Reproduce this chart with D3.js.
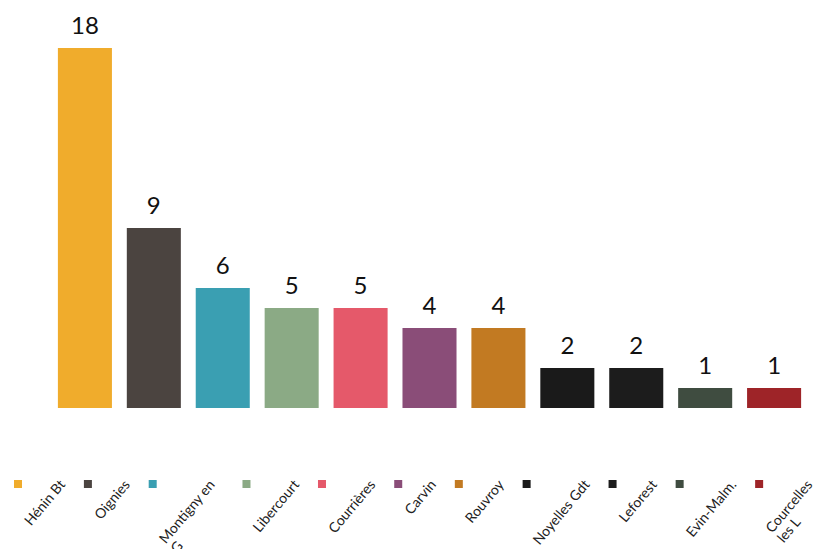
<!DOCTYPE html>
<html>
<head>
<meta charset="utf-8">
<script src="https://cdn.jsdelivr.net/npm/d3@7"></script>
<style>
  body { margin: 0; background: #fff; }
  text { font-family: Lato, "Open Sans", sans-serif; }
</style>
</head>
<body>
<script>
let communes = ["Hénin Bt","Oignies","Montigny en G","Libercourt","Courrières","Carvin","Rouvroy","Noyelles Gdt","Leforest","Evin-Malm.","Courcelles les L"]
let counts = [18,9,6,5,5,4,4,2,2,1,1]
let colors = ["#f0ac2c","#4b4440","#3a9fb2","#8baa85","#e5596a","#8a4d78","#c27a22","#1a1a1a","#1c1c1c","#3f4c40","#9e2428"]
// legend labels split on two lines where the picture wraps them
let legendLines = [["Hénin Bt"],["Oignies"],["Montigny en","G"],["Libercourt"],["Courrières"],["Carvin"],["Rouvroy"],["Noyelles Gdt"],["Leforest"],["Evin-Malm."],["Courcelles","les L"]]

let w = 827, h = 549
let svg = d3.select("body").append("svg").attr("width",w).attr("height",h)

let x = d3.scaleBand()
          .domain(communes)
          .range([51,808])
          .paddingInner(0.216)
          .paddingOuter(0.1)
let y = d3.scaleLinear()
          .domain([0,18])
          .range([408,48])

let data = communes.map((c,i)=>({name:c,value:counts[i],color:colors[i],lines:legendLines[i]}))

svg.selectAll("rect.bar")
   .data(data)
   .enter().append("rect")
      .attr("class","bar")
      .attr("x",d=>x(d.name))
      .attr("y",d=>y(d.value))
      .attr("width",x.bandwidth())
      .attr("height",d=>y(0)-y(d.value))
      .attr("fill",d=>d.color)

svg.selectAll("text.val")
   .data(data)
   .enter().append("text")
      .attr("class","val")
      .attr("x",d=>x(d.name)+x.bandwidth()/2)
      .attr("y",d=>y(d.value)-14)
      .attr("text-anchor","middle")
      .attr("font-size",24)
      .attr("fill","#111")
      .text(d=>d.value)

// legend: square, then a label rotated -50deg whose end sits at the square's level
let ang = 50
let cosA = Math.cos(ang*Math.PI/180)
let cursor = 14
let ly = 484
let leg = svg.append("g")
data.forEach((d)=>{
    leg.append("rect").attr("x",cursor).attr("y",ly-4).attr("width",8).attr("height",8).attr("fill",d.color)
    let g = leg.append("g")
    let t = g.append("text").attr("font-size",14).attr("fill","#222")
    // full width is what sets the spacing, even when the label wraps
    let full = t.text(d.name).node().getComputedTextLength()
    t.text(null)
    let first = t.append("tspan").attr("x",0).attr("text-anchor","end").text(d.lines[0])
    let w1 = first.node().getComputedTextLength()
    d.lines.slice(1).forEach((l)=>{
        t.append("tspan").attr("x",-w1).attr("dy",15).attr("text-anchor","start").text(l)
    })
    let sx = cursor + 17
    g.attr("transform","translate("+(sx + w1*cosA)+","+(ly+1)+") rotate(-"+ang+")")
    cursor = sx + full*cosA + 18
})
</script>
</body>
</html>
